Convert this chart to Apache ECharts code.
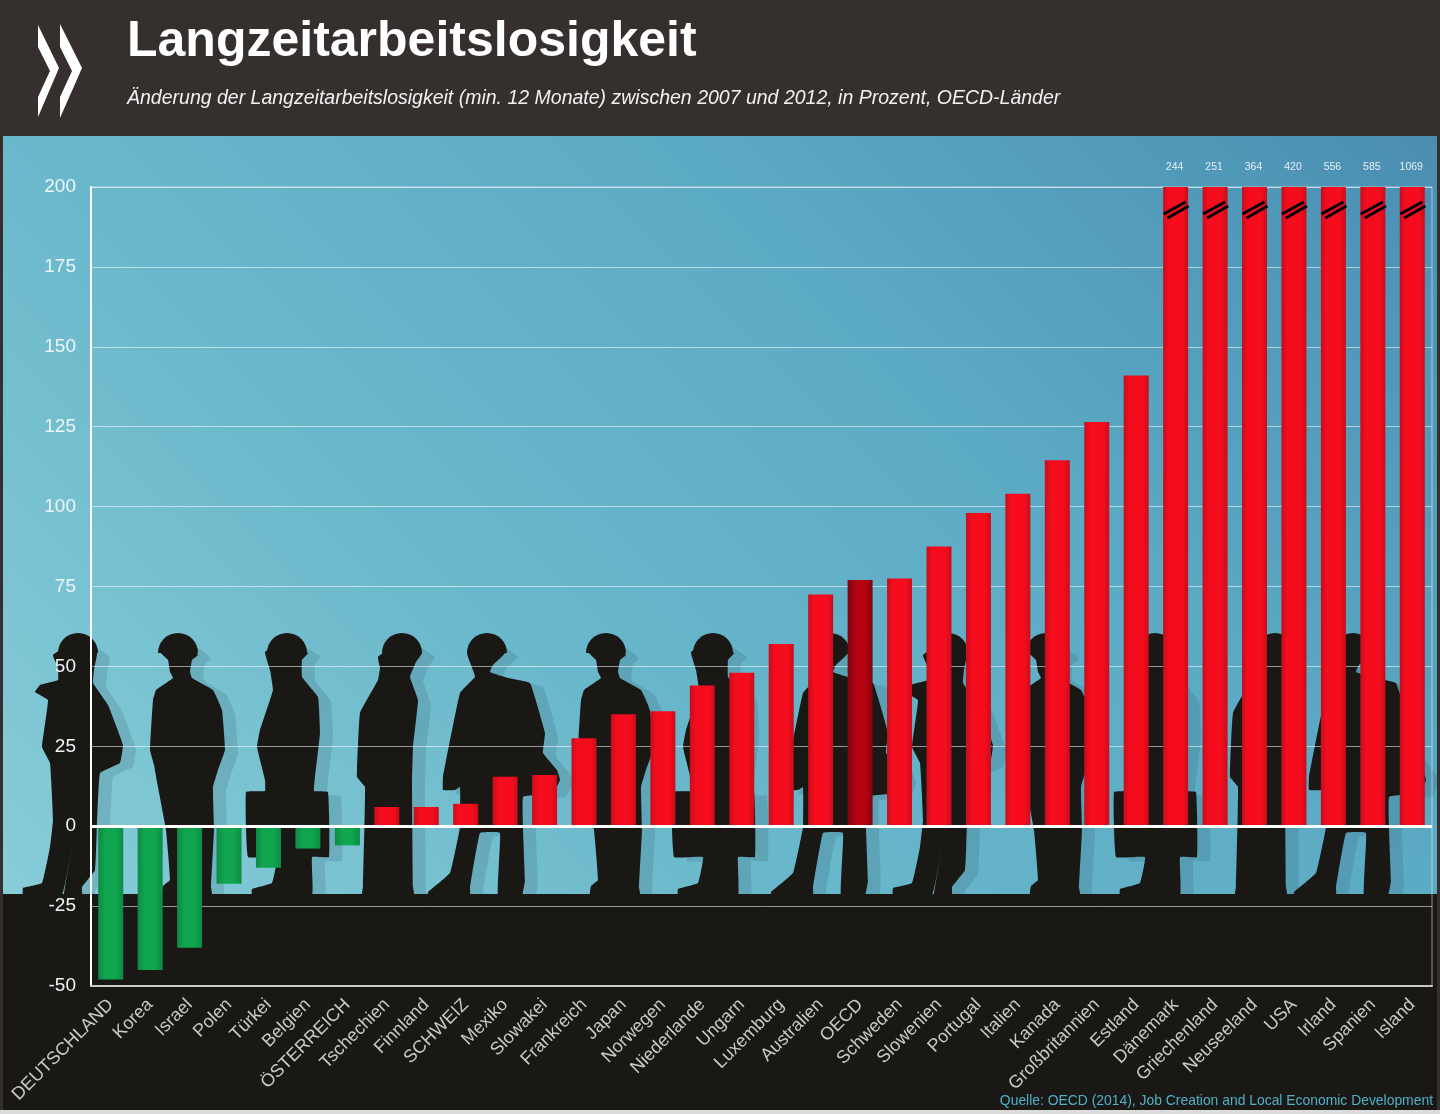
<!DOCTYPE html>
<html>
<head>
<meta charset="utf-8">
<title>Langzeitarbeitslosigkeit</title>
<script src="https://cdn.jsdelivr.net/npm/echarts@6/dist/echarts.min.js"></script>
<style>
  html, body { margin: 0; padding: 0; background: #352f2e; }
  #chart { width: 1440px; height: 1114px; }
</style>
</head>
<body>
<div id="chart"></div>
<script>
const categories = ["DEUTSCHLAND", "Korea", "Israel", "Polen", "Türkei", "Belgien", "ÖSTERREICH", "Tschechien", "Finnland", "SCHWEIZ", "Mexiko", "Slowakei", "Frankreich", "Japan", "Norwegen", "Niederlande", "Ungarn", "Luxemburg", "Australien", "OECD", "Schweden", "Slowenien", "Portugal", "Italien", "Kanada", "Großbritannien", "Estland", "Dänemark", "Griechenland", "Neuseeland", "USA", "Irland", "Spanien", "Island"];
const values = [-48, -45, -38, -18, -13, -7, -6, 6, 6, 7, 15.5, 16, 27.5, 35, 36, 44, 48, 57, 72.5, 77, 77.5, 87.5, 98, 104, 114.5, 126.5, 141, 244, 251, 364, 420, 556, 585, 1069];
const yTicks = { min: -50, max: 200, step: 25 };

// silhouettes behind the bars: x relative to the head, y is page y
const stand = [[0,640],[18,652],[20,655],[14,660],[12,672],[14,678],[35,690],[44,710],[47,750],[40,770],[35,787],[36,830],[33,887],[34,895],[-16,895],[-15,886],[-8,880],[-12,830],[-20,787],[-24,765],[-28,750],[-25,700],[-22,690],[-5,678],[-8,672],[-10,660],[-18,652]];
const withCase = [[0,640],[21,653],[15,660],[15,677],[31,697],[33,733],[28,777],[27,791],[41,792],[42,857],[25,857],[25,895],[-35,895],[-35,889],[-15,883],[-10,857],[-39,857],[-41,792],[-22,791],[-22,780],[-30,747],[-27,730],[-14,690],[-17,670],[-22,652]];
const profile = [[0,640],[20,653],[14,662],[8,677],[16,700],[11,747],[10,783],[11,887],[12,895],[-40,895],[-39,887],[-37,787],[-45,777],[-42,713],[-24,680],[-22,668],[-24,657]];
const walker = [[0,640],[19,653],[16,670],[15,683],[30,705],[45,745],[42,763],[22,773],[19,823],[17,870],[4,887],[4,895],[-14,895],[-13,887],[-6,847],[-16,895],[-55,895],[-55,888],[-36,883],[-28,847],[-25,820],[-28,763],[-36,747],[-30,700],[-43,692],[-38,685],[-20,680],[-20,668],[-25,655]];
const carrier = [[0,640],[18,653],[6,665],[3,672],[21,678],[43,683],[58,733],[56,753],[70,770],[73,780],[66,793],[36,797],[38,880],[35,895],[11,895],[13,833],[-7,833],[-17,887],[-17,895],[-59,895],[-59,892],[-37,873],[-27,827],[-27,787],[-32,790],[-44,790],[-44,777],[-27,693],[-12,677],[-14,670],[-20,653]];

const people = [
  [walker, 78], [stand, 178], [withCase, 287], [profile, 402], [carrier, 487], [stand, 606],
  [withCase, 713], [carrier, 830], [walker, 948], [stand, 1046], [withCase, 1155], [profile, 1275], [carrier, 1353]
];

// body polygon plus a half round hard hat on top
function personShapes(tpl, cx, offset) {
  const z = offset ? -4 : -2;
  const fill = offset ? "rgba(35,70,90,0.16)" : "#1a1814";
  const dy = offset ? 4 : 0;
  return [
    {
      type: "polygon", z: z, silent: true,
      shape: { points: tpl.map(p => [cx + p[0] + offset, p[1] + dy]), smooth: 0.08 },
      style: { fill: fill }
    },
    {
      type: "sector", z: z, silent: true,
      shape: { cx: cx + offset, cy: 653 + dy, r: 20, r0: 0, startAngle: Math.PI, endAngle: Math.PI * 2 },
      style: { fill: offset ? "rgba(35,70,90,0.0)" : fill }
    }
  ];
}

const chartEl = document.getElementById("chart");
const myChart = echarts.init(chartEl);

const redGrad = new echarts.graphic.LinearGradient(0, 0, 1, 0, [
  { offset: 0, color: "#c90d1b" }, { offset: 0.25, color: "#f50d1e" }, { offset: 0.75, color: "#f50d1e" }, { offset: 1, color: "#c90d1b" }
]);
const darkGrad = new echarts.graphic.LinearGradient(0, 0, 1, 0, [
  { offset: 0, color: "#7f0410" }, { offset: 0.4, color: "#b80312" }, { offset: 0.7, color: "#b80312" }, { offset: 1, color: "#7f0410" }
]);
const greenGrad = new echarts.graphic.LinearGradient(0, 0, 1, 0, [
  { offset: 0, color: "#0d8a45" }, { offset: 0.3, color: "#10a54f" }, { offset: 0.7, color: "#10a54f" }, { offset: 1, color: "#0d8a45" }
]);

const graphics = [
  { // background, 45 degrees from bottom left to top right
    type: "rect", z: -6, silent: true,
    shape: { x: 3, y: 136, width: 1434, height: 760 },
    style: { fill: new echarts.graphic.LinearGradient(0, 896, 1098, -202, [
      { offset: 0, color: "#88cdd8" }, { offset: 0.35, color: "#6ab8cb" }, { offset: 0.65, color: "#5cabc4" }, { offset: 1, color: "#4a8eb2" }
    ], true) }
  },
  { type: "rect", z: -3, silent: true, shape: { x: 3, y: 894, width: 1434, height: 216 }, style: { fill: "#1a1814" } },
  { type: "rect", z: -1, silent: true, shape: { x: 0, y: 1110, width: 1440, height: 4 }, style: { fill: "#dcdcdc" } },
  // logo
  { type: "polygon", silent: true, shape: { points: [[38,25],[59,68],[38,117],[38,97],[50,71],[38,47]] }, style: { fill: "#fff" } },
  { type: "polygon", silent: true, shape: { points: [[60,24],[82,68],[60,118],[60,97],[72,71],[60,47]] }, style: { fill: "#fff" } }
];
people.forEach(function (p) {
  personShapes(p[0], p[1], 13).forEach(g => graphics.push(g));
  personShapes(p[0], p[1], 0).forEach(g => graphics.push(g));
});

const overflowIdx = [];
values.forEach(function (v, i) { if (v > yTicks.max) overflowIdx.push(i); });

const option = {
  backgroundColor: "#352f2e",
  animation: false,
  textStyle: { fontFamily: "Liberation Sans" },
  title: [
    { text: "Langzeitarbeitslosigkeit", left: 122, top: 12, textStyle: { color: "#fff", fontSize: 50, fontWeight: "bold", fontFamily: "Liberation Sans" } },
    { text: "Änderung der Langzeitarbeitslosigkeit (min. 12 Monate) zwischen 2007 und 2012, in Prozent, OECD-Länder", left: 122, top: 84, textStyle: { color: "#f2f2f2", fontSize: 19.5, fontStyle: "italic", fontWeight: "normal", fontFamily: "Liberation Sans" } },
    { text: "Quelle: OECD (2014), Job Creation and Local Economic Development", right: 2, top: 1089, textStyle: { color: "#4fb0c8", fontSize: 13.9, fontWeight: "normal", fontFamily: "Liberation Sans" } }
  ],
  grid: { left: 91, right: 8, top: 187, bottom: 128, show: true, borderColor: "rgba(255,255,255,0.5)", borderWidth: 1 },
  xAxis: {
    type: "category",
    data: categories,
    axisLine: { onZero: false, lineStyle: { color: "#c8c8c8", width: 2 } },
    axisTick: { show: false },
    axisLabel: { interval: 0, rotate: 45, margin: 16, color: "#c9c9c9", fontSize: 18 }
  },
  yAxis: {
    type: "value",
    min: yTicks.min,
    max: yTicks.max,
    interval: yTicks.step,
    axisLine: { show: true, lineStyle: { color: "#fff", width: 2 } },
    axisTick: { show: false },
    axisLabel: { margin: 15, color: "#eef6f7", fontSize: 19 },
    splitLine: { lineStyle: { color: "rgba(255,255,255,0.55)", width: 1 } }
  },
  graphic: { elements: graphics },
  series: [
    {
      type: "bar",
      data: values,
      barWidth: 25,
      z: 3,
      itemStyle: {
        color: function (params) {
          if (params.name === "OECD") return darkGrad;
          return params.value < 0 ? greenGrad : redGrad;
        }
      },
      markLine: {
        silent: true,
        symbol: "none",
        label: { show: false },
        lineStyle: { color: "#fff", width: 3, type: "solid" },
        data: [{ yAxis: 0 }],
        z: 5
      }
    },
    {
      // values beyond the axis: real value above the bar and two break strokes
      type: "custom",
      z: 6,
      silent: true,
      data: overflowIdx.map(function (i) { return [i, values[i]]; }),
      clip: false,
      renderItem: function (params, api) {
        const top = api.coord([api.value(0), yTicks.max]);
        const x = top[0], y = top[1];
        const stroke = { stroke: "#000", lineWidth: 3 };
        return {
          type: "group",
          children: [
            { type: "line", shape: { x1: x - 12, y1: y + 27, x2: x + 10, y2: y + 15 }, style: stroke },
            { type: "line", shape: { x1: x - 8, y1: y + 31, x2: x + 13, y2: y + 19 }, style: stroke },
            { type: "text", style: { x: x - 1, y: y - 20, text: String(api.value(1)), fill: "#e6eef2", fontSize: 10.5, fontFamily: "Liberation Sans", align: "center", verticalAlign: "middle" } }
          ]
        };
      }
    }
  ]
};

myChart.setOption(option);
</script>
</body>
</html>
